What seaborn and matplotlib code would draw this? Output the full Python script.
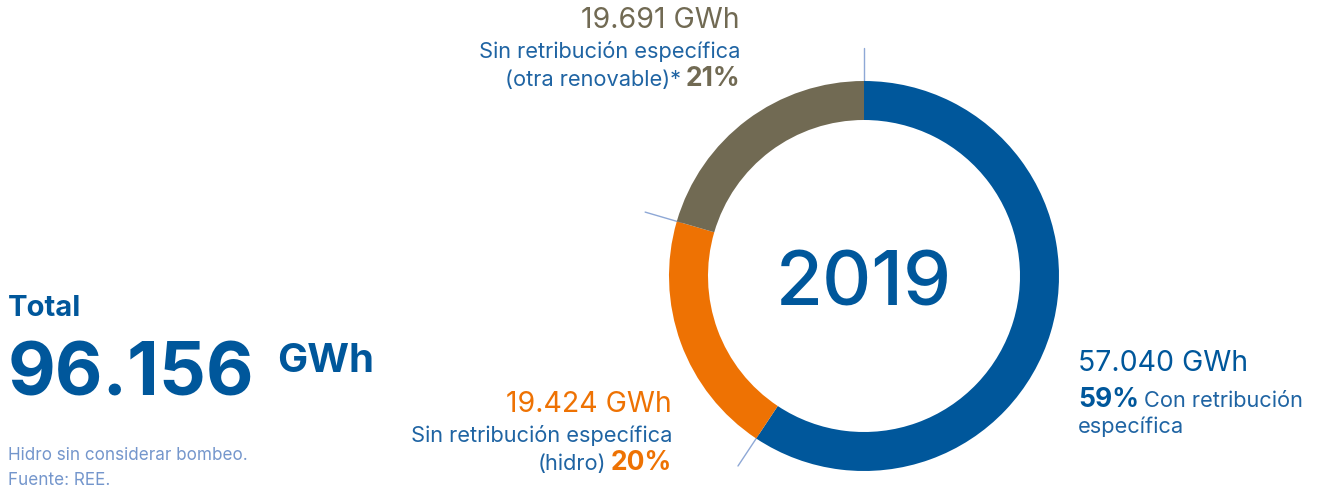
import matplotlib
matplotlib.use("Agg")
import matplotlib.pyplot as plt
import numpy as np
import seaborn as sns

# data
SEGMENTS = ["Con retribución específica", "Sin retribución específica (hidro)",
            "Sin retribución específica (otra renovable)"]
GWH = [57040, 19424, 19691]
PCTS = ["59%", "20%", "21%"]
VALUE_LABELS = ["57.040 GWh", "19.424 GWh", "19.691 GWh"]
TOTAL = "96.156"
YEAR = "2019"
NOTES = ["Hidro sin considerar bombeo.", "Fuente: REE."]

BLUE = "#00579B"
ORANGE = "#EE7203"
TAUPE = "#716A53"
TEXT_BLUE = "#1F64A3"
NOTE_BLUE = "#7496CC"
LEADER = "#8EA8D6"

W, H = 1328, 490
CX, CY = 864, 276      # ring centre, pixel coords (y down)
R_OUT, RING = 195, 39

VAL_SIZE = 20.5
TXT_SIZE = 15.7
PCT_SIZE = 19


def py(y):
    # pixel row -> data y
    return H - y


def label_pair(ax, x, y, first, second, c1, c2, w1, w2, s1, s2, ha):
    """Two text runs on one baseline; ha='right' anchors the second run, 'left' the first."""
    r = ax.figure.canvas.get_renderer()
    if ha == "right":
        t2 = ax.text(x, py(y), second, color=c2, fontweight=w2, fontsize=s2,
                     ha="right", va="baseline")
        bb = t2.get_window_extent(r)
        ax.text(x - bb.width - s1 * 0.3, py(y), first, color=c1, fontweight=w1, fontsize=s1,
                ha="right", va="baseline")
    else:
        t1 = ax.text(x, py(y), first, color=c1, fontweight=w1, fontsize=s1,
                     ha="left", va="baseline")
        bb = t1.get_window_extent(r)
        ax.text(x + bb.width + s2 * 0.3, py(y), second, color=c2, fontweight=w2,
                fontsize=s2, ha="left", va="baseline")


def main():
    sns.set_theme(style="white")
    plt.rcParams["font.family"] = ["Inter", "DejaVu Sans"]

    fig = plt.figure(figsize=(W / 100, H / 100), dpi=100)
    ax = fig.add_axes([0, 0, 1, 1])
    colors = sns.color_palette([BLUE, ORANGE, TAUPE])

    # leader lines on the segment boundaries
    cum = np.concatenate([[0], np.cumsum(GWH)[:-1]]) / sum(GWH)
    for f in cum:
        a = np.deg2rad(90 - 360 * f)
        r0, r1 = R_OUT - 5, R_OUT + 33
        ax.plot([CX + r0 * np.cos(a), CX + r1 * np.cos(a)],
                [py(CY) + r0 * np.sin(a), py(CY) + r1 * np.sin(a)],
                color=LEADER, lw=1, zorder=0)

    ax.pie(GWH, colors=colors, startangle=90, counterclock=False, radius=R_OUT,
           center=(CX, py(CY)), wedgeprops=dict(width=RING, edgecolor="none"))

    ax.set_xlim(0, W)
    ax.set_ylim(0, H)
    ax.set_aspect("equal")
    ax.axis("off")

    ax.text(CX, py(305), YEAR, color=BLUE, fontsize=55, fontweight="medium",
            ha="center", va="baseline")

    # top label (otra renovable)
    ax.text(740, py(28), VALUE_LABELS[2], color=TAUPE, fontsize=VAL_SIZE, ha="right", va="baseline")
    ax.text(740, py(58), "Sin retribución específica", color=TEXT_BLUE, fontsize=TXT_SIZE,
            ha="right", va="baseline")
    label_pair(ax, 740, 86, "(otra renovable)*", PCTS[2], TEXT_BLUE, TAUPE,
               "normal", "bold", TXT_SIZE, PCT_SIZE, "right")

    # bottom label (hidro)
    ax.text(672, py(412), VALUE_LABELS[1], color=ORANGE, fontsize=VAL_SIZE, ha="right", va="baseline")
    ax.text(672, py(442), "Sin retribución específica", color=TEXT_BLUE, fontsize=TXT_SIZE,
            ha="right", va="baseline")
    label_pair(ax, 672, 470, "(hidro)", PCTS[1], TEXT_BLUE, ORANGE,
               "normal", "bold", TXT_SIZE, PCT_SIZE, "right")

    # right label (con retribución)
    ax.text(1078, py(371), VALUE_LABELS[0], color=BLUE, fontsize=VAL_SIZE, ha="left", va="baseline")
    label_pair(ax, 1078, 407, PCTS[0], "Con retribución", BLUE, TEXT_BLUE,
               "bold", "normal", PCT_SIZE, TXT_SIZE, "left")
    ax.text(1078, py(433), "específica", color=TEXT_BLUE, fontsize=TXT_SIZE, ha="left", va="baseline")

    # total block
    ax.text(8, py(316), "Total", color=BLUE, fontsize=21, fontweight="bold", va="baseline")
    ax.text(8, py(395), TOTAL, color=BLUE, fontsize=53, fontweight="bold", va="baseline")
    ax.text(277, py(372), "GWh", color=BLUE, fontsize=29, fontweight="bold", va="baseline")
    ax.text(8, py(460), NOTES[0], color=NOTE_BLUE, fontsize=12.3, va="baseline")
    ax.text(8, py(485), NOTES[1], color=NOTE_BLUE, fontsize=12.3, va="baseline")

    fig.savefig("out.png", dpi=100, facecolor="white")
    plt.close(fig)


if __name__ == "__main__":
    main()
